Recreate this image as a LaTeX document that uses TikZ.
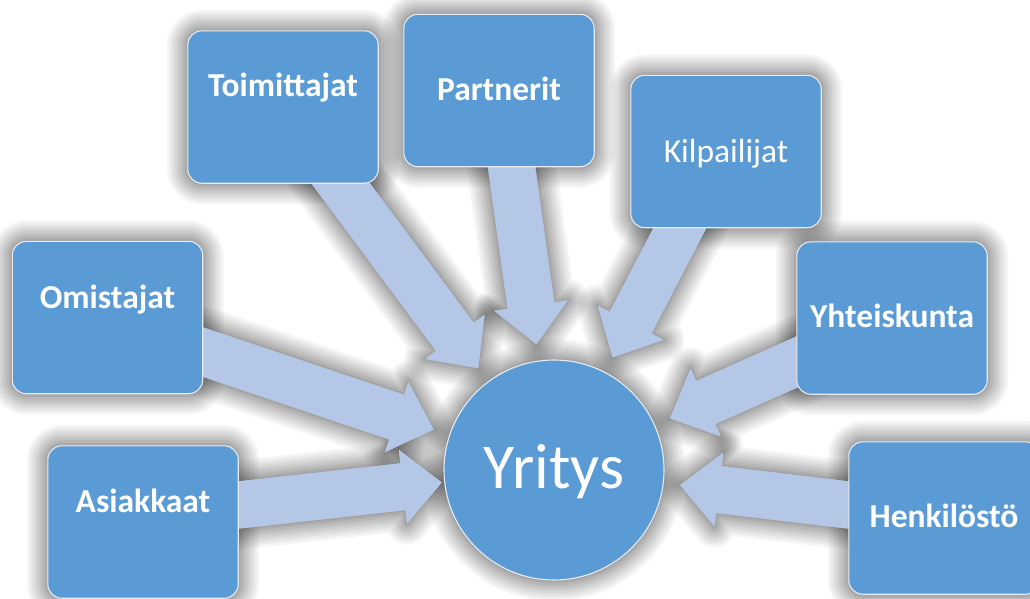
\documentclass[tikz,border=0pt]{standalone}
\usepackage{fontspec}
\setmainfont{Carlito}
\usetikzlibrary{calc}

\definecolor{boxblue}{HTML}{5B9BD5}
\definecolor{arrowblue}{HTML}{B4C7E7}
\definecolor{rimgray}{HTML}{E8ECF2}

\tikzset{
  % soft grey halo built from stacked translucent strokes
  halo/.style={
    preaction={draw=black, draw opacity=0.04, line width=42pt, line join=round},
    preaction={draw=black, draw opacity=0.04, line width=37pt, line join=round},
    preaction={draw=black, draw opacity=0.045, line width=32pt, line join=round},
    preaction={draw=black, draw opacity=0.045, line width=27pt, line join=round},
    preaction={draw=black, draw opacity=0.05, line width=22pt, line join=round},
    preaction={draw=black, draw opacity=0.05, line width=17pt, line join=round},
    preaction={draw=black, draw opacity=0.055, line width=12pt, line join=round},
    preaction={draw=black, draw opacity=0.06, line width=7pt, line join=round},
    preaction={draw=black, draw opacity=0.06, line width=3pt, line join=round}},
  stakebox/.style={rectangle, rounded corners=14pt, minimum width=190pt,
      minimum height=152pt, inner sep=0pt, fill=boxblue, halo},
  boxface/.style={rounded corners=14pt, fill=boxblue, draw=rimgray, line width=1.1pt},
  hub/.style={circle, minimum size=220pt, inner sep=0pt, fill=boxblue, halo},
  hubface/.style={fill=boxblue, draw=rimgray, line width=1.1pt},
  boxtext/.style={anchor=base, text=white, inner sep=0pt,
      font=\fontsize{33.5}{40}\selectfont},
  boldtext/.style={boxtext, font=\fontsize{33.5}{40}\selectfont\bfseries},
  hubtext/.style={anchor=base, text=white, inner sep=0pt,
      font=\fontsize{64}{72}\selectfont},
  arrowhalo/.style={fill=arrowblue, halo},
  arrowface/.style={fill=arrowblue},
}

% block arrow (style #1) from a start coordinate #2 towards the centre
% of node #3, stopping #4 away from that centre
\newcommand\stakearrow[4]{%
  \coordinate (s) at #2;
  \coordinate (t) at ($(#3.center)!#4!(s)$);
  \coordinate (b) at ($(t)!39pt!(s)$);
  \coordinate (s0) at ($(s)!-24pt!(t)$);
  \fill[#1] ($(s0)!23.5pt!90:(t)$) -- ($(b)!23.5pt!90:(t)$)
     -- ($(b)!37pt!90:(t)$) -- (t) -- ($(b)!37pt!-90:(t)$)
     -- ($(b)!23.5pt!-90:(t)$) -- ($(s0)!23.5pt!-90:(t)$) -- cycle;
}
% all seven arrows in one style
\newcommand\allarrows[1]{%
  \stakearrow{#1}{($(to.south)+(57.5,0)$)}{Y}{127pt}
  \stakearrow{#1}{($(pa.south)+(12.5,0)$)}{Y}{127pt}
  \stakearrow{#1}{($(ki.south)+(-46,0)$)}{Y}{127pt}
  \stakearrow{#1}{($(om.east)+(0,34.5)$)}{Y}{127pt}
  \stakearrow{#1}{($(yh.west)+(0,44)$)}{Y}{127pt}
  \stakearrow{#1}{($(he.west)+(0,-13)$)}{Y}{127pt}
  \stakearrow{#1}{($(as.east)+(0,-17)$)}{Y}{113pt}
}

\begin{document}
\begin{tikzpicture}[x=1pt, y=-1pt]
  \useasboundingbox (0,0) rectangle (1030,598);

  % first pass: shapes with their halos
  \node[hub] (Y) at (554,470) {};
  \node[stakebox] (to) at (283,107) {};
  \node[stakebox] (pa) at (499,90.5) {};
  \node[stakebox] (ki) at (726,151.5) {};
  \node[stakebox] (om) at (107.5,317.5) {};
  \node[stakebox] (yh) at (892,318) {};
  \node[stakebox] (as) at (143,522) {};
  \node[stakebox] (he) at (944,518) {};
  \allarrows{arrowhalo}

  % second pass: clean faces on top of every halo
  \allarrows{arrowface}
  \foreach \n in {to,pa,ki,om,yh,as,he}
    \path[boxface] (\n.north west) rectangle (\n.south east);
  \path[hubface] (Y.center) circle[radius=110pt];

  % labels
  \node[boldtext] (to-t) at (283,96) {Toimittajat};
  \node[boldtext] (pa-t) at (499,100) {Partnerit};
  \node[boxtext] (ki-t) at (726,162) {Kilpailijat};
  \node[boldtext] (om-t) at (107.5,308) {Omistajat};
  \node[boldtext] (yh-t) at (892,327) {Yhteiskunta};
  \node[boldtext] (as-t) at (143,512) {Asiakkaat};
  \node[boldtext] (he-t) at (944,527) {Henkilöstö};
  \node[hubtext] (Y-t) at (554,488) {Yritys};
\end{tikzpicture}
\end{document}
